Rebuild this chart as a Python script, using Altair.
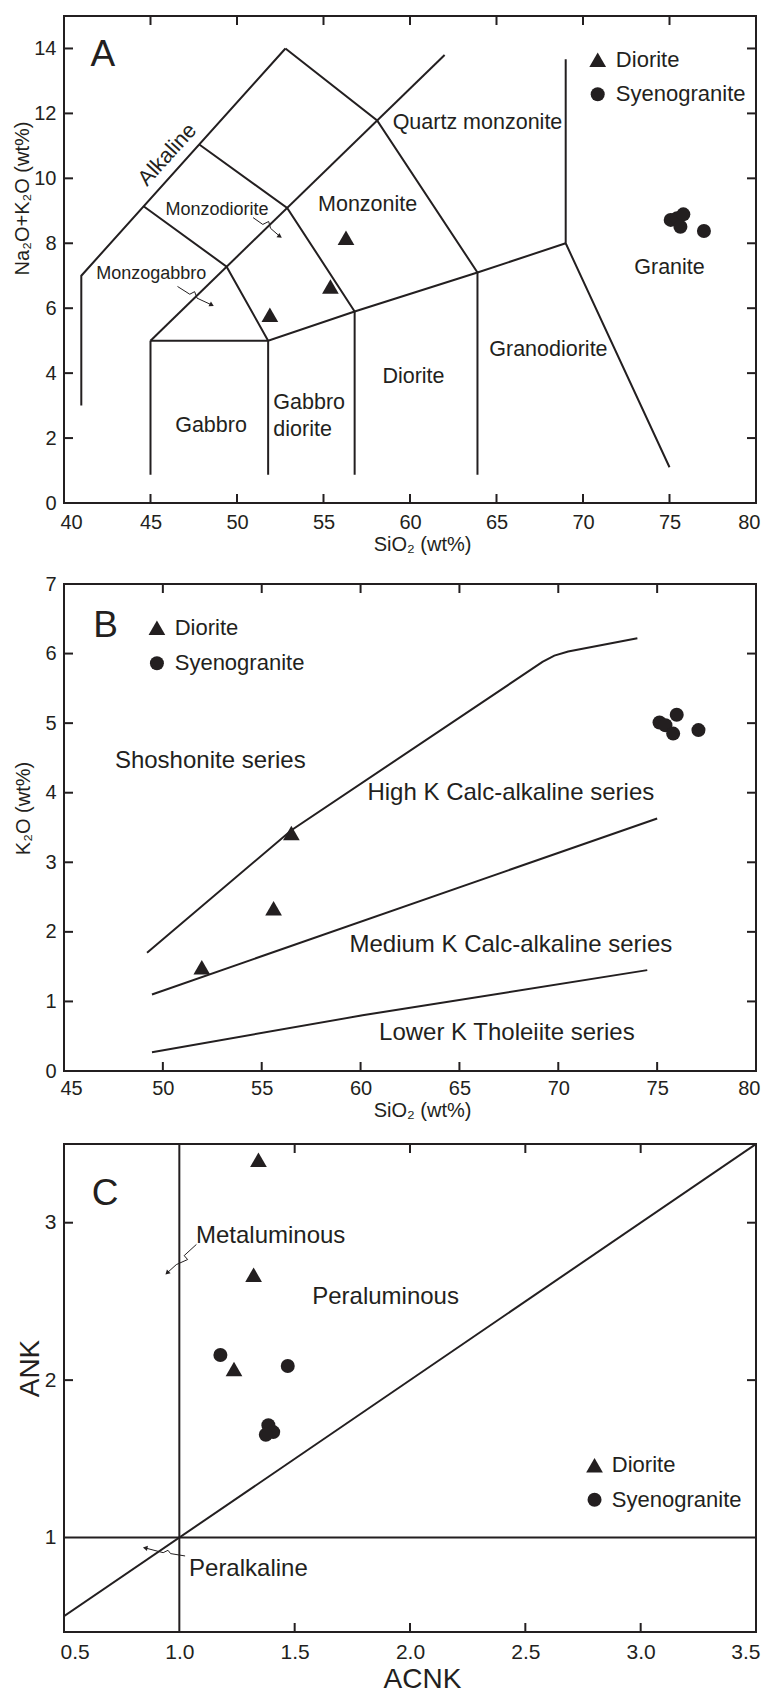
import altair as alt
import pandas as pd

FONT = "Liberation Sans"
INK = "#231f20"
W = 692

# ---------------- Panel A : TAS (Middlemost) ----------------
A_X_DOMAIN = [40, 80]
A_Y_DOMAIN = [0, 15]
A_X_LABELS = [40, 45, 50, 55, 60, 65, 70, 75, 80]
A_Y_LABELS = [0, 2, 4, 6, 8, 10, 12, 14]
A_X_TICKS = [45, 50, 55, 60, 65, 70, 75]
A_Y_TICKS = [2, 4, 6, 8, 10, 12, 14]
A_SEGMENTS = [
    [(41, 3), (41, 7), (52.8, 14)],
    [(52.8, 14), (58.1, 11.78), (63.9, 7.1)],
    [(45, 5), (62, 13.8)],
    [(44.6, 9.14), (49.4, 7.28), (51.8, 5)],
    [(47.8, 11.05), (52.9, 9.09), (56.8, 5.9)],
    [(45, 5), (51.8, 5), (56.8, 5.9), (63.9, 7.1), (69, 8)],
    [(69, 13.67), (69, 8), (75, 1.1)],
    [(45, 5), (45, 0.87)],
    [(51.8, 5), (51.8, 0.87)],
    [(56.8, 5.9), (56.8, 0.87)],
    [(63.9, 7.1), (63.9, 0.87)],
]
A_DIORITE_X = [51.9, 55.4, 56.3]
A_DIORITE_Y = [5.80, 6.67, 8.17]
A_SYENO_X = [75.07, 75.44, 75.80, 75.63, 76.99]
A_SYENO_Y = [8.72, 8.77, 8.89, 8.51, 8.38]
A_FIELD_NAMES = ["Quartz monzonite", "Monzonite", "Granite", "Granodiorite", "Diorite", "Gabbro"]
A_FIELD_X = [63.9, 57.55, 75.0, 68.0, 60.2, 48.5]
A_FIELD_Y = [11.69, 9.18, 7.23, 4.72, 3.87, 2.36]
A_LEFT_NAMES = ["Gabbro", "diorite"]
A_LEFT_X = [52.1, 52.1]
A_LEFT_Y = [3.08, 2.26]
A_SMALL_NAMES = ["Monzodiorite", "Monzogabbro"]
A_SMALL_X = [48.85, 45.04]
A_SMALL_Y = [9.03, 7.05]
A_ALK_X = [46.0]
A_ALK_Y = [10.72]
A_ARROWS = [
    [(50.93, 8.79), (51.49, 8.58), (51.83, 8.67), (51.94, 8.46), (52.48, 8.21)],
    [(46.56, 6.67), (47.27, 6.43), (47.55, 6.51), (47.69, 6.31), (48.54, 6.10)],
]
A_ARROW_ANGLES = [124, 118]
A_PANEL = ["A", 42.25, 13.8]
A_LEGEND_SYM_X = 70.85
A_LEGEND_SYM_Y = [13.65, 12.59]
A_LEGEND_TXT_X = 71.9

# ---------------- Panel B : K2O vs SiO2 ----------------
B_X_DOMAIN = [45, 80]
B_Y_DOMAIN = [0, 7]
B_X_LABELS = [45, 50, 55, 60, 65, 70, 75, 80]
B_Y_LABELS = [0, 1, 2, 3, 4, 5, 6, 7]
B_X_TICKS = [50, 55, 60, 65, 70, 75]
B_Y_TICKS = [1, 2, 3, 4, 5, 6]
B_SEGMENTS = [
    [(49.2, 1.70), (56.5, 3.46), (69.2, 5.88), (69.8, 5.97), (70.5, 6.03), (74.0, 6.22)],
    [(49.45, 1.10), (75.0, 3.63)],
    [(49.45, 0.27), (60.1, 0.80), (74.5, 1.45)],
]
B_DIORITE_X = [51.97, 55.6, 56.5]
B_DIORITE_Y = [1.49, 2.34, 3.42]
B_SYENO_X = [75.12, 75.42, 75.99, 75.81, 77.09]
B_SYENO_Y = [5.01, 4.97, 5.12, 4.85, 4.90]
B_SERIES_NAMES = ["Shoshonite series", "High K Calc-alkaline series",
                  "Medium K Calc-alkaline series", "Lower K Tholeiite series"]
B_SERIES_X = [52.4, 67.6, 67.6, 67.4]
B_SERIES_Y = [4.45, 4.0, 1.81, 0.54]
B_PANEL = ["B", 47.1, 6.40]
B_LEGEND_SYM_X = 49.7
B_LEGEND_SYM_Y = [6.37, 5.86]
B_LEGEND_TXT_X = 50.6

# ---------------- Panel C : ANK vs ACNK ----------------
C_X_DOMAIN = [0.5, 3.5]
C_Y_DOMAIN = [0.4, 3.5]
C_X_LABELS = [0.5, 1.0, 1.5, 2.0, 2.5, 3.0, 3.5]
C_Y_LABELS = [1, 2, 3]
C_X_TICKS = [1.5, 2.0, 2.5, 3.0]
C_Y_TICKS = [2, 3]
C_SEGMENTS = [
    [(1.0, 0.4), (1.0, 3.5)],
    [(0.5, 1.0), (3.5, 1.0)],
    [(0.5, 0.5), (3.5, 3.5)],
]
C_DIORITE_X = [1.343, 1.322, 1.237]
C_DIORITE_Y = [3.40, 2.67, 2.07]
C_SYENO_X = [1.178, 1.47, 1.386, 1.407, 1.375]
C_SYENO_Y = [2.16, 2.09, 1.713, 1.670, 1.653]
C_FIELD_NAMES = ["Metaluminous", "Peraluminous", "Peralkaline"]
C_FIELD_X = [1.072, 1.576, 1.042]
C_FIELD_Y = [2.915, 2.525, 0.80]
C_ARROWS = [
    [(1.074, 2.862), (1.021, 2.791), (1.036, 2.766), (0.987, 2.734), (0.947, 2.681)],
    [(1.025, 0.883), (0.962, 0.898), (0.951, 0.919), (0.930, 0.904), (0.852, 0.934)],
]
C_ARROW_ANGLES = [226, 281]
C_PANEL = ["C", 0.678, 3.18]
C_LEGEND_SYM_X = 2.80
C_LEGEND_SYM_Y = [1.46, 1.24]
C_LEGEND_TXT_X = 2.875

LEGEND_NAMES = ["Diorite", "Syenogranite"]
LEGEND_SHAPES = ["triangle-up", "circle"]


def seg_df(segs):
    rows = []
    for i, s in enumerate(segs):
        for j, (x, y) in enumerate(s):
            rows.append({"x": x, "y": y, "seg": i, "ord": j})
    return pd.DataFrame(rows)


def make_panel(xdom, ydom, xlabels, ylabels, xticks, yticks, xfmt, yfmt,
               xtitle, ytitle, xt_pos, yt_pos, title_size, label_size, h,
               segs, dio_x, dio_y, sy_x, sy_y, legend_x, legend_y, legend_tx,
               texts, panel_letter, arrows=None, arrow_angles=None, xpad=9):
    xs = alt.Scale(domain=xdom, nice=False, zero=False)
    ys = alt.Scale(domain=ydom, nice=False, zero=False)
    xaxis = alt.Axis(values=xlabels, format=xfmt, title=xtitle, ticks=False,
                     domain=False, grid=False, labelFontSize=label_size,
                     labelFont=FONT, labelColor=INK, labelPadding=xpad,
                     labelFlush=True, labelFlushOffset=4,
                     titleFont=FONT, titleFontSize=title_size,
                     titleFontWeight="normal", titleColor=INK,
                     titleX=xt_pos[0], titleY=xt_pos[1],
                     titleBaseline="middle", titleAlign="center")
    yaxis = alt.Axis(values=ylabels, format=yfmt, title=ytitle, ticks=False,
                     domain=False, grid=False, labelFontSize=label_size,
                     labelFont=FONT, labelColor=INK, labelPadding=8,
                     titleFont=FONT, titleFontSize=title_size,
                     titleFontWeight="normal", titleColor=INK,
                     titleX=yt_pos[0], titleY=yt_pos[1], titleAngle=270,
                     titleBaseline="middle", titleAlign="center")

    def X(f):
        return alt.X(f, scale=xs, axis=xaxis)

    def Y(f):
        return alt.Y(f, scale=ys, axis=yaxis)

    layers = []
    layers.append(
        alt.Chart(seg_df(segs)).mark_line(color=INK, strokeWidth=2, strokeJoin="miter", clip=True)
        .encode(x=X("x:Q"), y=Y("y:Q"), detail="seg:N", order="ord:Q")
    )
    # inward ticks on all four sides
    xt = pd.DataFrame({"v": xticks})
    yt = pd.DataFrame({"v": yticks})
    layers.append(alt.Chart(xt).mark_rule(color=INK, strokeWidth=2).encode(
        x=X("v:Q"), y=alt.value(h), y2=alt.value(h - 9)))
    layers.append(alt.Chart(xt).mark_rule(color=INK, strokeWidth=2).encode(
        x=X("v:Q"), y=alt.value(0), y2=alt.value(9)))
    layers.append(alt.Chart(yt).mark_rule(color=INK, strokeWidth=2).encode(
        y=Y("v:Q"), x=alt.value(0), x2=alt.value(9)))
    layers.append(alt.Chart(yt).mark_rule(color=INK, strokeWidth=2).encode(
        y=Y("v:Q"), x=alt.value(W), x2=alt.value(W - 9)))

    if arrows:
        layers.append(alt.Chart(seg_df(arrows)).mark_line(color=INK, strokeWidth=1).encode(
            x=X("x:Q"), y=Y("y:Q"), detail="seg:N", order="ord:Q"))
        heads = pd.DataFrame({"x": [a[-1][0] for a in arrows],
                              "y": [a[-1][1] for a in arrows],
                              "ang": arrow_angles})
        layers.append(alt.Chart(heads).mark_point(shape="triangle-up", filled=True, size=28,
                                                  color=INK, opacity=1).encode(
            x=X("x:Q"), y=Y("y:Q"), angle=alt.Angle("ang:Q", scale=None)))

    for (names, tx, ty, size, align, angle) in texts:
        df = pd.DataFrame({"x": tx, "y": ty, "t": names})
        kw = dict(font=FONT, fontSize=size, align=align, baseline="middle", color=INK)
        if angle:
            kw["angle"] = angle
        layers.append(alt.Chart(df).mark_text(**kw).encode(x=X("x:Q"), y=Y("y:Q"), text="t:N"))

    # panel letter
    layers.append(alt.Chart(pd.DataFrame({"x": [panel_letter[1]], "y": [panel_letter[2]], "t": [panel_letter[0]]}))
                  .mark_text(font=FONT, fontSize=37, align="center", baseline="middle", color=INK)
                  .encode(x=X("x:Q"), y=Y("y:Q"), text="t:N"))

    tri = 280
    cir = 196
    layers.append(alt.Chart(pd.DataFrame({"x": dio_x, "y": dio_y})).mark_point(
        shape="triangle-up", filled=True, size=tri, color=INK, opacity=1).encode(x=X("x:Q"), y=Y("y:Q")))
    layers.append(alt.Chart(pd.DataFrame({"x": sy_x, "y": sy_y})).mark_point(
        shape="circle", filled=True, size=cir, color=INK, opacity=1).encode(x=X("x:Q"), y=Y("y:Q")))

    # legend
    for name, shape, ly in zip(LEGEND_NAMES, LEGEND_SHAPES, legend_y):
        d = pd.DataFrame({"x": [legend_x], "y": [ly], "tx": [legend_tx], "t": [name]})
        layers.append(alt.Chart(d).mark_point(shape=shape, filled=True,
                                              size=(tri if shape != "circle" else cir),
                                              color=INK, opacity=1).encode(x=X("x:Q"), y=Y("y:Q")))
        layers.append(alt.Chart(d).mark_text(font=FONT, fontSize=22, align="left", baseline="middle",
                                             color=INK).encode(x=X("tx:Q"), y=Y("y:Q"), text="t:N"))

    return alt.layer(*layers).properties(width=W, height=h)


panel_a = make_panel(
    A_X_DOMAIN, A_Y_DOMAIN, A_X_LABELS, A_Y_LABELS, A_X_TICKS, A_Y_TICKS, "d", "d",
    "SiO\u2082 (wt%)", "Na\u2082O+K\u2082O (wt%)", (358, 41), (-42, 182), 20, 20, 487,
    A_SEGMENTS, A_DIORITE_X, A_DIORITE_Y, A_SYENO_X, A_SYENO_Y,
    A_LEGEND_SYM_X, A_LEGEND_SYM_Y, A_LEGEND_TXT_X,
    [
        (A_FIELD_NAMES, A_FIELD_X, A_FIELD_Y, 21.5, "center", None),
        (A_LEFT_NAMES, A_LEFT_X, A_LEFT_Y, 21.5, "left", None),
        (A_SMALL_NAMES, A_SMALL_X, A_SMALL_Y, 18, "center", None),
        (["Alkaline"], A_ALK_X, A_ALK_Y, 21.5, "center", 312),
    ],
    A_PANEL, A_ARROWS, A_ARROW_ANGLES,
)

panel_b = make_panel(
    B_X_DOMAIN, B_Y_DOMAIN, B_X_LABELS, B_Y_LABELS, B_X_TICKS, B_Y_TICKS, "d", "d",
    "SiO\u2082 (wt%)", "K\u2082O (wt%)", (358, 39), (-41, 224), 20, 20, 487,
    B_SEGMENTS, B_DIORITE_X, B_DIORITE_Y, B_SYENO_X, B_SYENO_Y,
    B_LEGEND_SYM_X, B_LEGEND_SYM_Y, B_LEGEND_TXT_X,
    [
        (B_SERIES_NAMES, B_SERIES_X, B_SERIES_Y, 24, "center", None),
    ],
    B_PANEL, xpad=7,
)

panel_c = make_panel(
    C_X_DOMAIN, C_Y_DOMAIN, C_X_LABELS, C_Y_LABELS, C_X_TICKS, C_Y_TICKS, ".1f", "d",
    "ACNK", "ANK", (358, 47), (-34, 224), 28, 21, 488,
    C_SEGMENTS, C_DIORITE_X, C_DIORITE_Y, C_SYENO_X, C_SYENO_Y,
    C_LEGEND_SYM_X, C_LEGEND_SYM_Y, C_LEGEND_TXT_X,
    [
        (C_FIELD_NAMES, C_FIELD_X, C_FIELD_Y, 24, "left", None),
    ],
    C_PANEL, C_ARROWS, C_ARROW_ANGLES,
)

top = alt.vconcat(panel_a, panel_b, spacing=18)
chart = alt.vconcat(top, panel_c, spacing=21).properties(
    padding={"left": 11, "top": 14, "right": 0, "bottom": 0}
).configure_view(stroke=INK, strokeWidth=2)

chart.save("out.html", embed_options={"renderer": "svg", "actions": False})
